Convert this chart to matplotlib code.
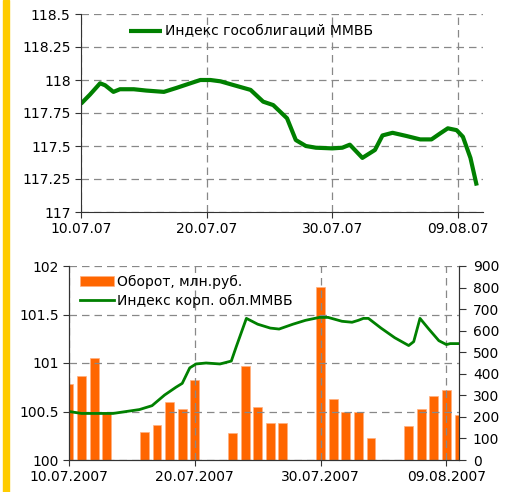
import numpy as np
import matplotlib
matplotlib.use("Agg")
import matplotlib.pyplot as plt
import matplotlib.dates as mdates
from matplotlib.patches import Rectangle

# --- data, days counted from 10.07.2007 ---
gov_days = [0, 0.72, 1.52, 1.92, 2.58, 3.1, 4.2, 5.2, 6.6, 7.6, 8.7, 9.5, 10.3, 11.1,
            12.2, 13.5, 14.5, 15.3, 16.4, 17.1, 17.9, 18.7, 20.0, 20.8, 21.4, 22.4,
            23.4, 24.0, 24.8, 25.9, 27.0, 27.9, 28.6, 29.2, 29.9, 30.4, 31.0, 31.5]
gov_index = [117.82, 117.89, 117.975, 117.96, 117.91, 117.93, 117.93, 117.92, 117.91,
             117.94, 117.975, 118.0, 118.0, 117.99, 117.96, 117.925, 117.836, 117.81,
             117.71, 117.545, 117.50, 117.487, 117.482, 117.487, 117.51, 117.41,
             117.47, 117.58, 117.60, 117.576, 117.55, 117.55, 117.596, 117.634,
             117.62, 117.57, 117.41, 117.20]

corp_days = [0, 1.0, 2.5, 3.5, 5.6, 6.6, 7.6, 8.5, 9.0, 9.6, 10.1, 10.9, 12.0, 12.9,
             13.3, 14.1, 15.0, 16.0, 16.7, 17.8, 18.8, 19.9, 20.6, 21.7, 22.5, 23.0,
             23.4, 23.8, 24.8, 25.9, 27.0, 27.4, 27.9, 28.6, 29.4, 30.0, 30.3, 30.9]
corp_index = [100.50, 100.48, 100.48, 100.48, 100.52, 100.56, 100.67, 100.75, 100.79,
              100.95, 100.99, 101.0, 100.99, 101.02, 101.17, 101.46, 101.40, 101.36,
              101.35, 101.40, 101.44, 101.47, 101.47, 101.43, 101.42, 101.44, 101.46,
              101.46, 101.36, 101.26, 101.18, 101.22, 101.46, 101.35, 101.23, 101.19,
              101.20, 101.20]

turnover_dates = ['2007-07-10', '2007-07-11', '2007-07-12', '2007-07-13',
                  '2007-07-16', '2007-07-17', '2007-07-18', '2007-07-19', '2007-07-20',
                  '2007-07-23', '2007-07-24', '2007-07-25', '2007-07-26', '2007-07-27',
                  '2007-07-30', '2007-07-31', '2007-08-01', '2007-08-02', '2007-08-03',
                  '2007-08-06', '2007-08-07', '2007-08-08', '2007-08-09', '2007-08-10']
turnover = [351, 391, 473, 224, 128, 164, 271, 237, 373, 124, 435, 244, 170, 170,
            804, 285, 224, 224, 102, 156, 237, 297, 325, 210]

gov_label = 'Индекс гособлигаций ММВБ'
corp_label = 'Индекс корп. обл.ММВБ'
turn_label = 'Оборот, млн.руб.'

start = np.datetime64('2007-07-10T00:00')
def to_dates(days):
    return start + (np.array(days) * 24 * 60).astype('timedelta64[m]')

tick_dates = np.array(['2007-07-10', '2007-07-20', '2007-07-30', '2007-08-09'],
                      dtype='datetime64[D]')

plt.rcParams['font.family'] = 'DejaVu Sans'
plt.rcParams['font.size'] = 10

fig = plt.figure(figsize=(5.10, 4.92), dpi=100)
fig.patches.append(Rectangle((3 / 510, 0), 6 / 510, 1, transform=fig.transFigure,
                             color='#FFCC00', zorder=0))

grid_kw = dict(color='#888888', linestyle=(0, (6, 4)), linewidth=0.9)

# --- top chart ---
ax1 = fig.add_axes([81 / 510, 1 - 212 / 492, 402 / 510, 198 / 492])
ax1.plot(to_dates(gov_days), gov_index, color='#008000', linewidth=3,
         solid_capstyle='butt', solid_joinstyle='round', label=gov_label)
ax1.set_xlim(np.datetime64('2007-07-10'), np.datetime64('2007-08-11'))
ax1.set_ylim(117, 118.5)
ax1.set_yticks([117, 117.25, 117.5, 117.75, 118, 118.25, 118.5])
ax1.set_yticklabels(['117', '117.25', '117.5', '117.75', '118', '118.25', '118.5'])
ax1.set_xticks(tick_dates)
ax1.xaxis.set_major_formatter(mdates.DateFormatter('%d.%m.%y'))
ax1.grid(True, **grid_kw)
ax1.set_axisbelow(True)
for s in ['top', 'right']:
    ax1.spines[s].set_visible(False)
ax1.legend(loc='upper left', bbox_to_anchor=(0.105, 0.975), frameon=False,
           handlelength=2.4, handletextpad=0.2, borderaxespad=0)

# --- bottom chart ---
ax2 = fig.add_axes([69 / 510, 32 / 492, 390 / 510, 194 / 492])
ax3 = ax2.twinx()
bar_x = np.array(turnover_dates, dtype='datetime64[D]')
bars = ax3.bar(bar_x, turnover, width=0.7, color='#FF6600', edgecolor='#FFB080',
               linewidth=0.5, label=turn_label)
ax3.set_ylim(0, 900)
ax3.set_yticks(range(0, 1000, 100))
line, = ax2.plot(to_dates(corp_days), corp_index, color='#008000', linewidth=2,
                 solid_joinstyle='round', label=corp_label)
ax2.set_zorder(ax3.get_zorder() + 1)
ax2.patch.set_visible(False)
ax2.set_ylim(100, 102)
ax2.set_yticks([100, 100.5, 101, 101.5, 102])
ax2.set_yticklabels(['100', '100.5', '101', '101.5', '102'])
ax2.set_xlim(np.datetime64('2007-07-10'), np.datetime64('2007-08-10'))
ax2.set_xticks(tick_dates)
ax2.xaxis.set_major_formatter(mdates.DateFormatter('%d.%m.%Y'))
ax3.set_xlim(ax2.get_xlim())
ax2.grid(True, **grid_kw)
ax2.spines['top'].set_visible(False)
ax3.spines['top'].set_visible(False)
ax2.legend([bars, line], [turn_label, corp_label], loc='upper left',
           bbox_to_anchor=(0.015, 0.985), frameon=False, handlelength=2.4,
           handletextpad=0.2, borderaxespad=0, labelspacing=0.35)

for ax in (ax1, ax2, ax3):
    ax.tick_params(length=4, color='#333333')
    for s in ax.spines.values():
        s.set_color('#333333')
ax3.tick_params(axis='y', length=5, pad=5)

fig.savefig('out.png', dpi=100)
